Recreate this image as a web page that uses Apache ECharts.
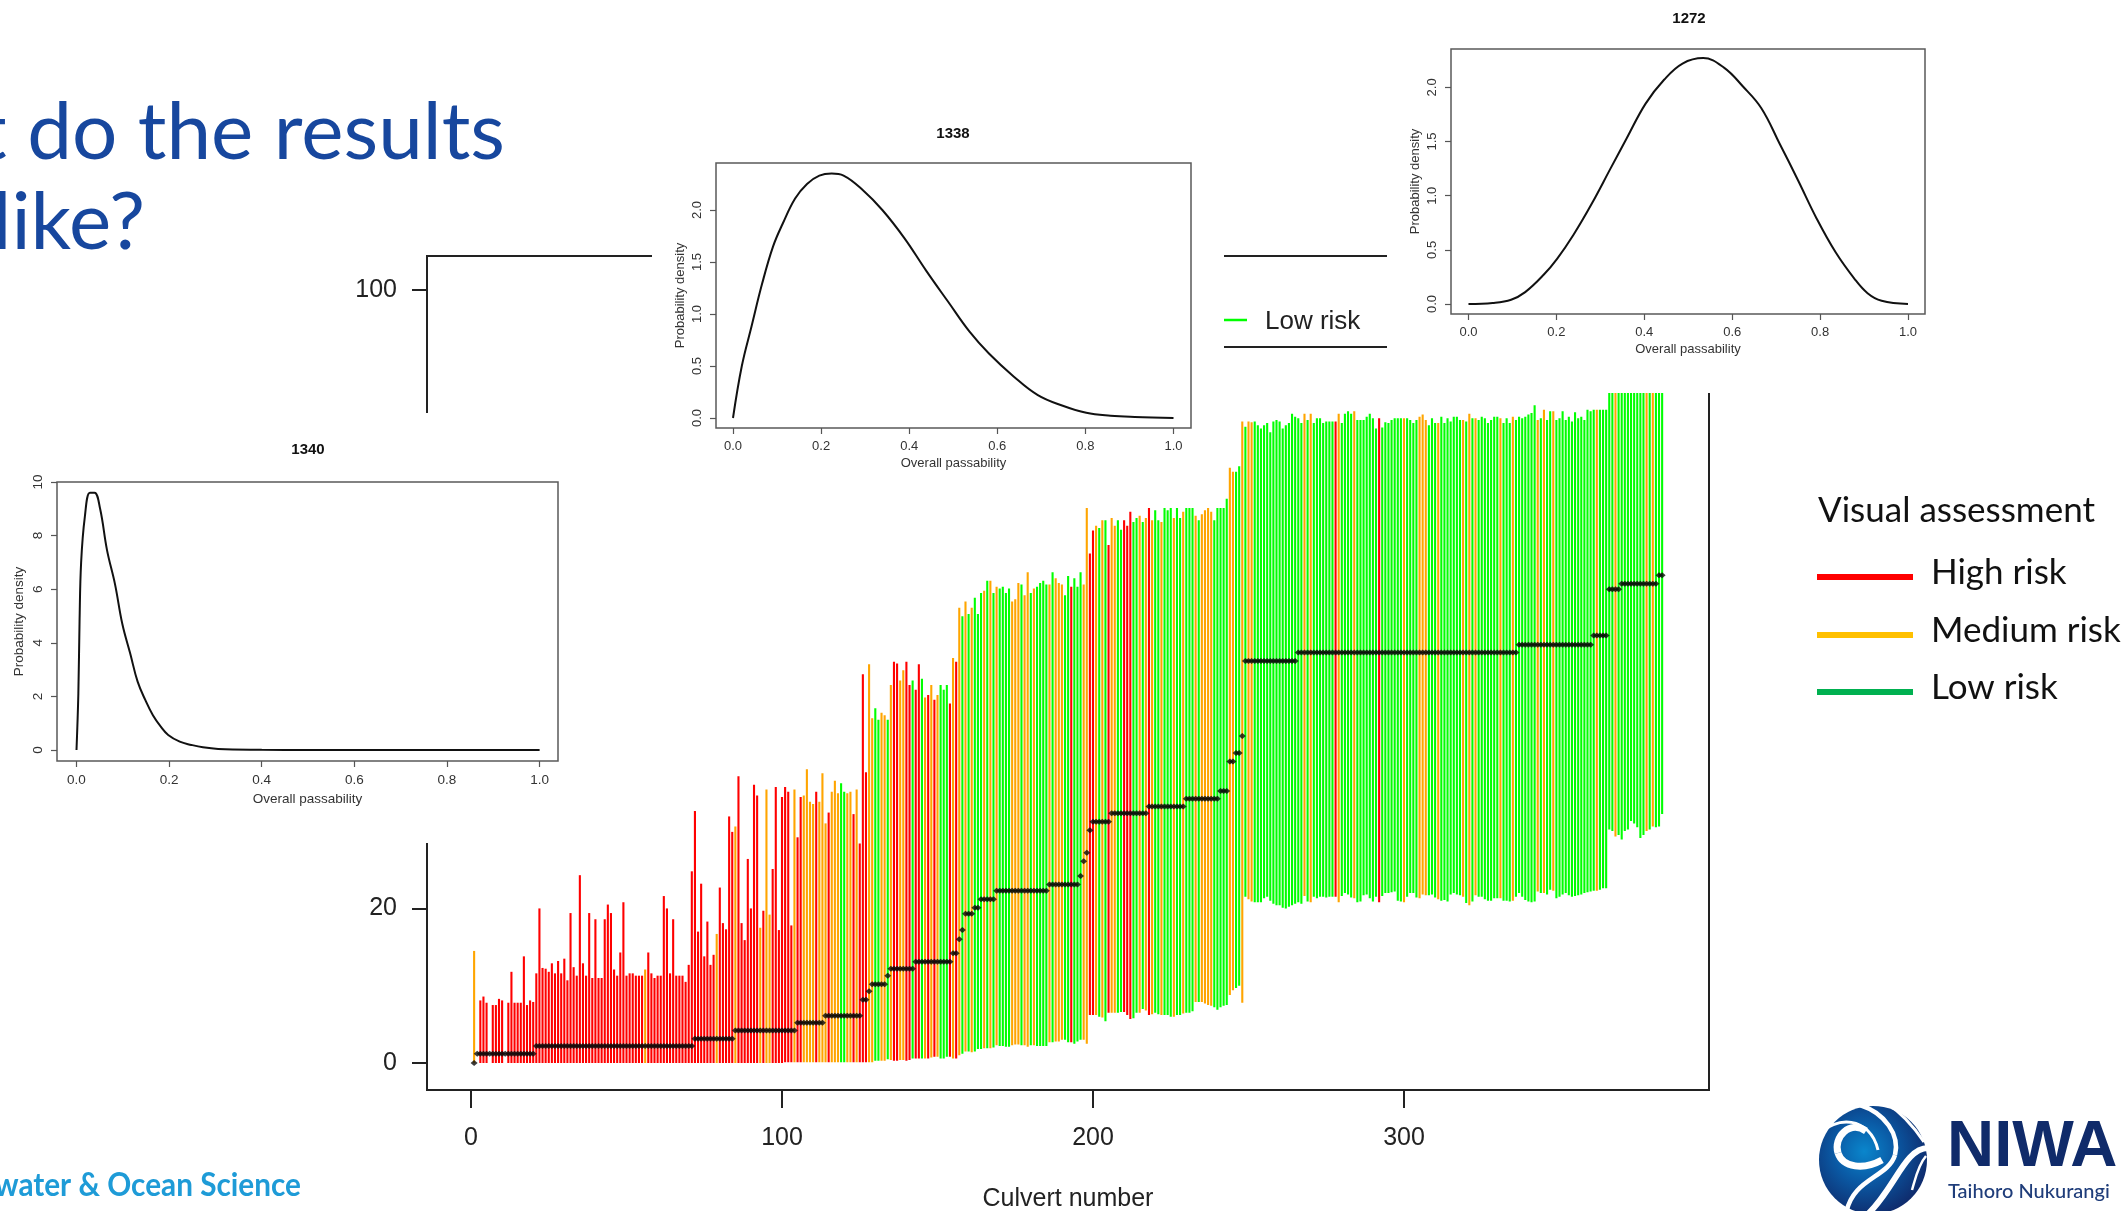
<!DOCTYPE html>
<html>
<head>
<meta charset="utf-8">
<title>Culvert passability</title>
<style>html,body{margin:0;padding:0;background:#fff;overflow:hidden}#c{width:2126px;height:1211px}</style>
<script src="https://cdn.jsdelivr.net/npm/echarts@6/dist/echarts.min.js"></script>
</head>
<body>
<div id="c"></div>
<script>
// ---------- main chart data: one entry per culvert ----------
const riskCodes = (
  "MHHHHHHHHH" + "HHHHHHHHHH" + "HHHHHHHHHH" + "HHHHHHHHHH" + "HHHHHHHHHH" +
  "HHHHHMHHHH" + "HHHHHHHHHH" + "HHHHHHHHMH" + "HHHHMHHHHH" + "HHMHMMHHHH" +
  "HHHMHHMMMM" + "HMMMHMMMLL" + "MMHMHHHMML" + "LMMLMHHMMH" + "HLHHLMHMHM" +
  "LLLHMHMLML" + "MLLLMLMLML" + "LLLMMMLMML" + "MLLLLMLMMM" + "LLHLLLMMHH" +
  "MLMLHMMLLH" + "HHLLMLMHML" + "LMLLLMLLML" + "LLMLMMMMLL" + "LLLMMLLMLM" +
  "MLLLLLLLLL" + "LLLLLLLMLM" + "LLLLLLLHML" + "LLLMLLLLLL" + "LHLLLLLLLM" +
  "LLLLMMMLLL" + "MLLLLLLLML" + "MLMLLLLLLL" + "MLLLMLLLLL" + "LLMLMLLMLL" +
  "LLLLLLLLLL" + "LMLLLLLMLL" + "LLLLLLLMLM" + "LLL").split("");

const upperBound = [
  14.5,0,8.1,8.6,7.8,0,7.5,7.5,8.3,8.1,
  0,7.8,11.8,7.8,7.8,7.8,13.8,7.5,8.1,7.9,
  11.6,20,12.3,12.2,11.8,12.9,11.6,13.2,11.6,13.5,
  10.7,19.4,12.4,11.3,24.3,12.9,11.3,19.4,11,18.6,
  11,11,18.6,20.5,19.4,12.1,11.3,14.3,20.8,11.3,
  11.6,11.6,11.3,11.3,11.3,12.1,14.3,11.6,11,11.3,
  11.3,21.6,20,11.6,18.6,11.3,11.3,11.3,10.5,12.7,
  24.8,32.6,17,23.2,13.8,18.3,12.7,14,16.7,22.7,
  18.1,17.3,31.9,29.9,30.6,37.1,18.1,15.9,26.4,20,
  36,34.6,17.5,19.7,35.4,19.2,25.1,35.7,17.2,34.4,
  35.7,35.1,17.8,35.4,29.2,34.4,34.6,38,33.8,33.5,
  35.1,33.8,37.5,31,32.4,35.1,36.5,34.9,36.2,35.1,
  34.9,35.1,32.2,35.4,28.4,50.3,37.6,51.6,44.6,45.9,
  44.4,45.3,45,44.4,48.9,51.9,51.7,49.5,50.8,51.9,
  48.9,49.5,48.3,51.6,49.7,47.3,47.6,48.9,47,47.6,
  48.9,48.3,48.9,46.5,52.4,51.9,58.9,57.8,59.7,58.1,
  58.9,60.2,58.1,60.8,61.1,62.4,62.4,60.8,61.6,61.4,
  61.6,60.8,61.4,59.7,60,62.1,61.9,60.5,63.5,60.8,
  61.4,61.6,62.1,62.4,61.9,61.9,63.5,62.7,62.1,61.9,
  60.5,63,61.6,62.7,61.6,63.5,61.9,71.8,65.9,68.9,
  69.5,69.2,70.2,70.2,67,70.5,69.5,70.2,69,70.2,
  69.5,71.3,70,70.5,70.8,70,70.5,71.8,70.2,71.5,
  70.2,70,71.8,71.5,71.8,70.5,71.8,70.5,71.3,71.8,
  71.8,71.8,70.8,70.2,71,71.5,71.8,71.3,70.2,71.8,
  71.8,71.8,73,77,76.5,76.5,77.2,83,82.3,83,
  82.9,83,82.5,82.1,82.5,82.8,81.6,83,83.2,83,
  82.1,82.5,82.8,84,83.6,83.4,82.8,84,83.2,84,
  82.8,83.4,83.4,82.8,83,83,83,83,84,82.8,
  84,84.3,84,84.3,83.2,83.2,83.2,83.6,84,83.4,
  82.1,83.4,82.2,82.9,82.8,83.2,83.4,83.4,83.4,83.4,
  83.4,83.2,82.8,83.2,83.6,83.9,83.2,82.5,83.4,82.8,
  82.8,83.6,82.8,83.4,83,83.6,83.6,83.2,83.2,83,
  84,83.4,83.4,83.2,83.6,83.4,82.8,83.2,83.6,83.6,
  83.4,82.8,83.4,82.8,83.6,83.2,83.6,83.4,83.6,83.9,
  84.1,85.1,83.2,83.4,84.5,83.2,84.3,84.3,83.2,83.4,
  84.3,83.2,83.6,83,84.2,83.4,83.6,83.2,84.5,84.3,
  84.5,84.5,84.5,84.5,84.5,90,90,90,90,90,
  90,90,90,90,90,90,90,90,90,90,90,90,90
];

const lowerBound = [
  0,0,0,0,0,0,0,0,0,0, 0,0,0,0,0,0,0,0,0,0, 0,0,0,0,0,0,0,0,0,0,
  0,0,0,0,0,0,0,0,0,0, 0,0,0,0,0,0,0,0,0,0, 0,0,0,0,0,0,0,0,0,0,
  0,0,0,0,0,0,0,0,0,0, 0,0,0,0,0,0,0,0,0,0, 0,0,0,0,0,0,0,0,0,0,
  0,0,0,0,0,0,0,0,0,0,
  0.1,0.1,0.1,0.1,0.1,0.1,0.1,0.1,0.1,0.1,
  0.1,0.1,0.1,0.1,0.1,0.1,0.1,0.1,0.1,0.1,0.1,0.1,0.1,0.1,0.1,
  0.1,0.1,0.1,0.1,0.3,0.3,0.3,0.3,0.5,0.4,
  0.3,0.3,0.4,0.4,0.3,0.4,0.6,0.6,0.6,0.6,
  0.6,0.6,0.7,0.8,0.8,0.6,0.6,0.8,0.8,0.6,0.6,
  1,1.2,1.5,1.5,1.4,1.5,1.8,1.8,1.9,1.9,
  1.9,2,2.3,2.2,2.2,2.1,2.1,2.3,2.4,2.4,
  2.3,2.3,2.1,2.3,2.3,2.2,2.2,2.2,2.2,2.7,
  2.7,2.8,2.8,3,3,2.7,2.7,2.5,2.8,3,3,2.5,
  6.2,6.2,6.2,6,5.9,5.4,6.5,6.5,6.5,6.5,
  6.6,6.6,6.2,5.7,5.8,6.5,6.5,7,6.8,6.2,
  6.3,6.5,6.3,6.2,6.2,6.2,6,6,6.2,6.2,
  6.4,6.5,6.5,6.7,7.9,7.9,7.9,7.7,7.5,7.4,7.2,6.9,
  7.2,7.4,7.5,8.8,9.4,9.7,10,7.8,
  21.5,21.2,20.9,20.8,20.8,20.8,21.3,21.5,21,20.6,
  20.4,20.4,20.1,20,20.2,20.4,20.6,20.8,20.6,21.6,
  20.9,20.8,21.5,21.3,21.5,21.5,21.4,21.5,21.5,21.5,
  20.8,21.6,22,21.8,21.4,21.3,20.8,20.9,21.7,21.8,
  21.3,20.9,21.5,20.8,21.6,22,22,22.1,22.2,21,
  20.9,20.8,21.5,22,22,21.4,21.3,21.8,21.7,21.7,
  21.8,21.4,21.2,21,21.1,20.9,21.8,22,21.8,21.7,
  21.5,20.7,20.4,20.9,21.7,21.5,21.5,21.2,21,21,
  21.3,21.3,21.3,21,21,20.9,21,21.5,22,21.5,
  21.1,20.9,20.8,20.9,22.2,22,22,21.8,22.4,22.3,
  21.3,21.5,21.8,22,21.7,21.5,21.6,21.7,21.8,22,
  22.1,22.2,22.3,22.3,22.4,22.6,22.6,
  30.2,30,29.3,29.5,28.9,30,30.2,31.3,31,30.5,
  29.1,29.5,30,30.2,30.6,30.5,30.6,32.2
];

// median marks: each value and how many consecutive culverts sit at that value
const medianLevels = [0,1.2,2.2,3.15,4.2,5.2,6.1,8.2,9.3,10.2,11.3,12.2,13.1,14.2,16,17.2,19.3,20.1,21.2,22.3,23.1,24.2,26.1,27.2,30.1,31.2,32.3,33.2,34.2,35.2,39,40.1,42.3,52,53.1,54.1,55.3,61.3,62,63.1];
const medianRuns   = [1,19,51,13,20,9,12,2,1,5,1,8,12,2,1,1,3,2,5,17,10,1,1,1,1,6,12,12,11,3,2,2,1,17,71,24,5,4,12,2];

const mainXTicks = [0,100,200,300];
const mainYTicks = [0,20,40,60,80,100];
const mainXTitle = "Culvert number";
const riskColors = {H:"#FF0000", M:"#FFA500", L:"#00FF00"};

// ---------- inset density curves ----------
const x1340 = [0,.004,.0066,.01,.018,.029,.039,.051,.066,.083,.099,.116,.132,.149,.165,.182,.198,.223,.248,.273,.306,.4,.5,.75,1];
const y1340 = [0,2.1,4.8,7,8.7,9.6,9.6,9,7.45,6.2,4.7,3.6,2.55,1.85,1.3,.87,.56,.31,.19,.1,.04,.01,0,0,0];
const x1338 = [0,.02,.042,.066,.091,.113,.141,.168,.196,.224,.251,.295,.339,.389,.438,.488,.537,.581,.637,.692,.747,.802,.857,.912,1];
const y1338 = [0,.5,.88,1.29,1.65,1.87,2.11,2.25,2.33,2.35,2.33,2.19,2,1.73,1.42,1.12,.83,.62,.4,.22,.12,.05,.022,.01,0];
const x1272 = [0,.055,.097,.129,.171,.202,.239,.281,.323,.36,.403,.445,.487,.534,.582,.624,.666,.708,.75,.792,.835,.877,.908,.94,1];
const y1272 = [0,.01,.04,.11,.27,.42,.64,.93,1.25,1.53,1.85,2.07,2.22,2.27,2.18,2.01,1.81,1.48,1.14,.79,.48,.24,.1,.03,0];

const insetXTicks = [0,.2,.4,.6,.8,1];
const y1340Ticks = [0,2,4,6,8,10];
const yDensityTicks = [0,.5,1,1.5,2];
const insetXTitle = "Overall passability";
const insetYTitle = "Probability density";

// ---------- legend text ----------
const legendTitle = "Visual assessment";
const legendNames = ["High risk","Medium risk","Low risk"];
const legendColors = ["#FF0000","#FFC000","#00B050"];

const culvertNumbers = riskCodes.map((_, i) => i + 1);
const medians = [];
medianLevels.forEach((v, k) => { for (let n = 0; n < medianRuns[k]; n++) medians.push(v); });
if (upperBound.length !== 383 || lowerBound.length !== 383 || riskCodes.length !== 383 || medians.length !== 383)
  throw new Error("len " + [upperBound.length, lowerBound.length, riskCodes.length, medians.length]);

const Z_MAIN = 1, Z_MASK = 10, Z_INSET = 20;
const RFONT = '"Liberation Sans", Arial, sans-serif';

function inset(cfg) {
  const grid = {left: cfg.box[0], top: cfg.box[1], width: cfg.box[2]-cfg.box[0], height: cfg.box[3]-cfg.box[1],
    show: true, backgroundColor: "#fff", borderColor: "#5a5a5a", borderWidth: 1.5, z: Z_INSET, outerBoundsMode:"none"};
  const axisCommon = {z: Z_INSET, splitLine: {show:false}, axisLine: {show:false, onZero:false}};
  const tick = v => ({show:true, customValues:v, length:6, lineStyle:{color:"#555", width:1.2}});
  const x = Object.assign({}, axisCommon, {type:"value", gridIndex: cfg.idx, min: cfg.xr[0], max: cfg.xr[1],
    axisTick: tick(insetXTicks),
    axisLabel: {customValues: insetXTicks, margin: cfg.xm, fontFamily: RFONT, fontSize: cfg.fs, color: "#333",
      formatter: v => v.toFixed(1), showMinLabel:true, showMaxLabel:true, hideOverlap:false},
    name: insetXTitle, nameLocation:"middle", nameGap: cfg.xn, nameTextStyle:{fontFamily:RFONT, fontSize:cfg.fs, color:"#333"}});
  const y = Object.assign({}, axisCommon, {type:"value", gridIndex: cfg.idx, min: cfg.yr[0], max: cfg.yr[1],
    axisTick: tick(cfg.yt),
    axisLabel: {customValues: cfg.yt, rotate: 90, margin: cfg.ym, fontFamily: RFONT, fontSize: cfg.fs, color: "#333",
      formatter: cfg.yf, showMinLabel:true, showMaxLabel:true, hideOverlap:false},
    name: insetYTitle, nameLocation:"middle", nameGap: cfg.yn, nameRotate: 90,
    nameTextStyle:{fontFamily:RFONT, fontSize:cfg.fs, color:"#333"}});
  const s = {type:"line", xAxisIndex: cfg.idx, yAxisIndex: cfg.idx, z: Z_INSET, symbol:"none", smooth:0.4,
    lineStyle:{color:"#111", width:2}, data: cfg.xs.map((v,i)=>[v, cfg.ys[i]]), silent:true, clip:false};
  const t = {text: cfg.name, left: cfg.tx, top: cfg.ty, textAlign:"center", z: Z_INSET,
    textStyle:{fontFamily:RFONT, fontSize:15, fontWeight:"bold", color:"#111"}};
  return {grid, x, y, s, t};
}
const one = v => v.toFixed(1);
const insets = [
  inset({idx:1, name:"1340", box:[57,482,558,761], xr:[-.0421,1.0397], yr:[-.41,10], xs:x1340, ys:y1340, yt:y1340Ticks, yf:v=>String(v),
         xm:12, xn:31, ym:12, yn:31, tx:303, ty:437, fs:13.5}),
  inset({idx:2, name:"1338", box:[716,163,1191,428], xr:[-.0386,1.0397], yr:[-.096,2.452], xs:x1338, ys:y1338, yt:yDensityTicks, yf:one,
         xm:12, xn:29, ym:12, yn:29, tx:948, ty:121, fs:13}),
  inset({idx:3, name:"1272", box:[1451,49,1925,314], xr:[-.0398,1.0387], yr:[-.092,2.354], xs:x1272, ys:y1272, yt:yDensityTicks, yf:one,
         xm:12, xn:29, ym:12, yn:29, tx:1684, ty:6, fs:13})
];

const mainGrid = {left:427, top:256, width:1282, height:834, show:true, backgroundColor:"#fff", borderColor:"#222", borderWidth:2, z:Z_MAIN, outerBoundsMode:"none"};
const mainX = {type:"value", gridIndex:0, min:-14.15, max:398.07, z:Z_MAIN, splitLine:{show:false}, axisLine:{show:false, onZero:false},
  axisTick:{show:true, customValues:mainXTicks, length:18, lineStyle:{color:"#222", width:2}},
  axisLabel:{customValues:mainXTicks, margin:36, fontFamily:RFONT, fontSize:25, color:"#222", showMinLabel:true, hideOverlap:false},
  name: mainXTitle, nameLocation:"middle", nameGap:97, nameTextStyle:{fontFamily:RFONT, fontSize:25, color:"#222"}};
const mainY = {type:"value", gridIndex:0, min:-3.49, max:104.4, z:Z_MAIN, splitLine:{show:false}, axisLine:{show:false, onZero:false},
  axisTick:{show:true, customValues:mainYTicks, length:15, lineStyle:{color:"#222", width:2}},
  axisLabel:{customValues:mainYTicks, margin:30, padding:[3,0,0,0], fontFamily:RFONT, fontSize:25, color:"#222", showMinLabel:true, hideOverlap:false}};

const barsData = culvertNumbers.map((n,i)=>[n, lowerBound[i], upperBound[i], riskCodes[i]]);
const barsSeries = {type:"custom", xAxisIndex:0, yAxisIndex:0, z:Z_MAIN, silent:true, clip:true, progressive:0,
  encode:{x:0, y:[1,2]}, data:barsData,
  renderItem:(params, api)=>{
    const hi = api.value(2); const lo = api.value(1);
    if (hi <= lo) return null;
    const a = api.coord([api.value(0), lo]); const b = api.coord([api.value(0), hi]);
    return {type:"line", shape:{x1:a[0], y1:a[1], x2:b[0], y2:b[1]},
      style:{stroke:riskColors[riskCodes[params.dataIndex]], lineWidth:2.1, fill:null}};
  }};
const medianSeries = {type:"scatter", xAxisIndex:0, yAxisIndex:0, z:Z_MAIN+1, silent:true, symbol:"diamond", symbolSize:[7,6],
  itemStyle:{color:"#0a0a0a"}, data:culvertNumbers.map((n,i)=>[n, medians[i]]), progressive:0};

const mask = (x,y,w,h)=>({type:"rect", z:Z_MASK, silent:true, shape:{x,y,width:w,height:h}, style:{fill:"#fff"}});
const txt = (x,y,text,font,fill,align,extra)=>Object.assign({type:"text", z:30, silent:true, x, y,
  style:{text, font, fill, align:align||"left", verticalAlign:"middle"}}, extra||{});

const TITLE_FONT = '400 80px Lato, sans-serif';
const LEG_FONT = '400 35px Lato, sans-serif';
const graphics = [
  mask(0,413,570,430), mask(652,110,572,370), mask(1387,0,563,393),
  // old plot legend remnants
  {type:"line", z:5, silent:true, shape:{x1:1224,y1:347,x2:1387,y2:347}, style:{stroke:"#222",lineWidth:2}},
  {type:"line", z:5, silent:true, shape:{x1:1224,y1:320,x2:1247,y2:320}, style:{stroke:"#00FF00",lineWidth:2.5}},
  txt(1265,322,"Low risk",'400 26px '+RFONT,"#222"),
  // slide title
  txt(505,133,"t do the results",TITLE_FONT,"#17479E","right"),
  txt(145,223,"like?",TITLE_FONT,"#17479E","right"),
  txt(301,1186,"nwater & Ocean Science",'700 32px Lato, sans-serif',"#1E9BD7","right",{scaleX:.93}),
  // visual assessment legend
  txt(1818,511,legendTitle,LEG_FONT,"#111"),
];
legendNames.forEach((name,k)=>{
  const y = [577,635,692][k];
  graphics.push({type:"line", z:30, silent:true, shape:{x1:1817,y1:y,x2:1913,y2:y}, style:{stroke:legendColors[k],lineWidth:6}});
  graphics.push(txt(1931,y-4,name,LEG_FONT,"#111"));
});
// NIWA logo (decoration): gradient disc with white swirl strokes
graphics.push({type:"circle", z:30, silent:true, shape:{cx:1873,cy:1160,r:54},
  style:{fill:{type:"radial",x:.42,y:.42,r:.62,colorStops:[{offset:0,color:"#0a86cc"},{offset:.45,color:"#0a5aa5"},{offset:1,color:"#0f2a6b"}]}}});
[
  [1866,1131,1850,1120,1833,1137,1838,1153,7],
  [1838,1153,1843,1168,1864,1170,1882,1160,7],
  [1818,1136,1835,1115,1870,1116,1878,1150,3],
  [1860,1105,1885,1113,1900,1135,1895,1155,4.5],
  [1895,1155,1888,1178,1852,1178,1846,1214,4.5],
  [1886,1103,1905,1115,1916,1130,1924,1142,3],
  [1928,1148,1905,1148,1895,1188,1868,1214,6],
  [1926,1156,1918,1165,1915,1180,1912,1190,2.5]
].forEach(p=>graphics.push({type:"bezierCurve", z:31, silent:true,
  shape:{x1:p[0],y1:p[1],cpx1:p[2],cpy1:p[3],cpx2:p[4],cpy2:p[5],x2:p[6],y2:p[7]},
  style:{fill:null, stroke:"#fff", lineWidth:p[8]}}));
graphics.push(txt(1947,1148,"NIWA",'700 64px '+RFONT,"#102B6A","left",{scaleX:1.02}));
graphics.push(txt(1948,1192,"Taihoro Nukurangi",'500 20px Lato, sans-serif',"#1F3D7A"));

const chart = echarts.init(document.getElementById("c"), null, {renderer:"canvas", width:2126, height:1211});
chart.setOption({
  animation:false, backgroundColor:"#fff",
  grid:[mainGrid].concat(insets.map(i=>i.grid)),
  xAxis:[mainX].concat(insets.map(i=>i.x)),
  yAxis:[mainY].concat(insets.map(i=>i.y)),
  title:insets.map(i=>i.t),
  series:[barsSeries, medianSeries].concat(insets.map(i=>i.s)),
  graphic:{elements:graphics}
});
</script>
</body>
</html>
